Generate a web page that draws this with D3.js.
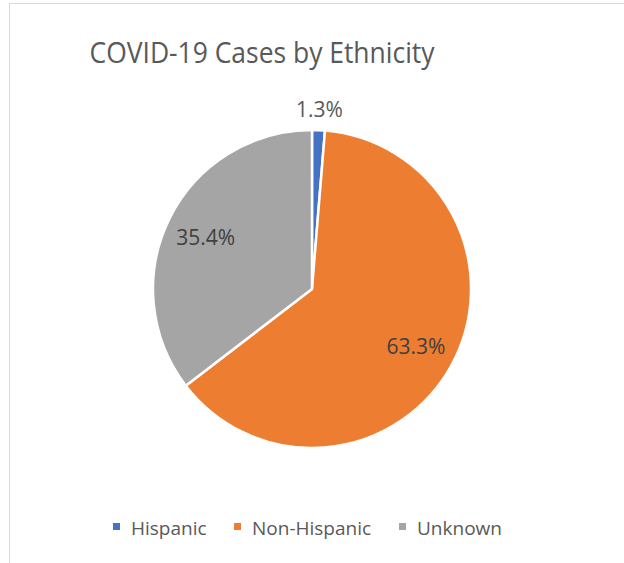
<!DOCTYPE html>
<html>
<head>
<meta charset="utf-8">
<script src="https://cdn.jsdelivr.net/npm/d3@7"></script>
<style>
  html, body { margin: 0; padding: 0; background: #fff; }
  svg text { font-family: "Open Sans", "Noto Sans", sans-serif; fill: #595959; }
</style>
</head>
<body>
<div class="gv-chart"></div>
<script>
// data
var categories = ["Hispanic", "Non-Hispanic", "Unknown"];
var shares = [1.3, 63.3, 35.4];
var colours = ["#4472C4", "#ED7D31", "#A5A5A5"];
var titleText = "COVID-19 Cases by Ethnicity";

var width = 624, height = 563;
var cx = 312, cy = 289, radius = 159;

var svg = d3.select(".gv-chart").append("svg")
    .attr("width", width).attr("height", height);

// chart frame (only top and left edges are visible in the crop)
svg.append("rect")
    .attr("x", 9.5).attr("y", 3.5)
    .attr("width", 700).attr("height", 700)
    .attr("fill", "#fff")
    .attr("stroke", "#d9d9d9");

svg.append("text")
    .attr("x", 262).attr("y", 63)
    .attr("text-anchor", "middle")
    .style("font-size", "30px")
    .attr("textLength", 345)
    .attr("lengthAdjust", "spacingAndGlyphs")
    .text(titleText);

var rows = categories.map(function(c, i) {
  return { name: c, value: shares[i], colour: colours[i] };
});

var pie = d3.pie().sort(null).value(function(d) { return d.value; });
var arcs = pie(rows);

var arc = d3.arc().innerRadius(0).outerRadius(radius);
var labelArc = d3.arc().innerRadius(radius * 0.745).outerRadius(radius * 0.745);
var outerArc = d3.arc().innerRadius(radius + 22).outerRadius(radius + 22);

var g = svg.append("g").attr("transform", "translate(" + cx + "," + cy + ")");

g.selectAll("path")
    .data(arcs)
    .enter().append("path")
    .attr("d", arc)
    .attr("fill", function(d) { return d.data.colour; })
    .attr("stroke", "#fff")
    .attr("stroke-width", 2.5)
    .attr("stroke-linejoin", "round");

g.selectAll(".lbl")
    .data(arcs)
    .enter().append("text")
    .attr("class", "lbl")
    .attr("transform", function(d) {
      // small slices get their label outside, like Excel's best fit
      var p = (d.data.value < 5 ? outerArc : labelArc).centroid(d);
      return "translate(" + p + ")";
    })
    .attr("text-anchor", "middle")
    .attr("dy", "0.4em")
    .style("font-size", "21px")
    .style("fill", function(d) { return d.data.value < 5 ? "#595959" : "#404040"; })
    .text(function(d) { return d.data.value.toFixed(1) + "%"; });

// legend
var legendX = [113, 234, 399];
var legend = svg.selectAll(".legend")
    .data(rows)
    .enter().append("g")
    .attr("class", "legend")
    .attr("transform", function(d, i) { return "translate(" + legendX[i] + ",523)"; });

legend.append("rect")
    .attr("width", 7).attr("height", 7)
    .attr("fill", function(d) { return d.colour; });

legend.append("text")
    .attr("x", 18).attr("y", 12)
    .style("font-size", "19px")
    .text(function(d) { return d.name; });
</script>
</body>
</html>
